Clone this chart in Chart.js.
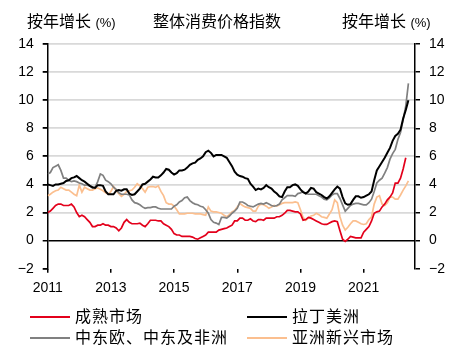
<!DOCTYPE html>
<html>
<head>
<meta charset="utf-8">
<script src="https://cdn.jsdelivr.net/npm/chart.js@4"></script>
<style>
  body { margin: 0; background: #fff; font-family: "Liberation Sans", "Noto Sans CJK SC", sans-serif; }
  #wrap { position: relative; width: 455px; height: 353px; }
  #chart { position: absolute; left: 0; top: 0; }
  .txt { position: absolute; font-size: 16px; line-height: 16px; color: #000; white-space: nowrap; }
  .pct { font-size: 13px; }
  .key { position: absolute; height: 2px; width: 40px; }
</style>
</head>
<body>
<div id="wrap">
  <canvas id="chart" width="455" height="353"></canvas>
  <div class="txt" style="left:27px; top:14px;">按年增长 <span class="pct">(%)</span></div>
  <div class="txt" style="left:153px; top:14px;">整体消费价格指数</div>
  <div class="txt" style="left:342px; top:14px;">按年增长 <span class="pct">(%)</span></div>
  <div id="legend"></div>
</div>
<script>
document.addEventListener("DOMContentLoaded", function() {
    // monthly data, first point = Jan 2011
    const startYear = 2011;
    const tickYears = [2011, 2013, 2015, 2017, 2019, 2021];
    const seriesNames = ['成熟市场', '拉丁美洲', '中东欧、中东及非洲', '亚洲新兴市场'];
    const seriesColors = ['#e3001b', '#000000', '#808080', '#fbbf8f'];

    const mature = [2.0,2.1,2.3,2.5,2.6,2.6,2.5,2.5,2.5,2.6,
        2.4,2.0,1.7,1.8,1.7,1.5,1.3,1.0,1.0,1.1,
        1.1,1.2,1.1,1.1,1.0,1.0,0.9,0.7,0.9,1.3,
        1.5,1.3,1.2,1.2,1.2,1.25,1.1,1.0,1.2,1.45,
        1.45,1.45,1.4,1.4,1.2,1.1,1.0,0.8,0.5,0.4,
        0.4,0.3,0.3,0.3,0.3,0.25,0.15,0.1,0.2,0.3,
        0.4,0.6,0.6,0.6,0.6,0.75,0.8,0.85,0.9,1.0,
        1.1,1.4,1.4,1.6,1.6,1.45,1.45,1.55,1.4,1.35,
        1.5,1.5,1.45,1.6,1.6,1.6,1.6,1.7,1.7,1.8,
        1.95,2.15,2.15,2.1,2.05,2.05,1.9,1.45,1.5,1.65,
        1.6,1.5,1.4,1.3,1.2,1.15,1.15,1.25,1.35,1.4,
        1.35,0.7,0.1,-0.05,0.1,0.3,0.25,0.2,0.2,0.2,
        0.6,0.8,1.0,1.4,1.95,2.05,2.1,2.4,2.6,2.9,
        3.1,3.4,4.1,4.1,4.45,5.1,5.9];

    const latam = [4.0,3.95,3.9,4.0,4.0,4.05,4.1,4.25,4.3,4.45,
        4.5,4.6,4.45,4.3,4.2,4.05,3.9,3.8,3.75,3.95,
        3.95,3.9,3.5,3.3,3.3,3.3,3.55,3.6,3.55,3.65,
        3.65,3.35,3.25,3.3,3.5,3.7,4.0,4.05,4.2,4.35,
        4.55,4.5,4.5,4.65,4.85,5.1,5.05,4.85,4.7,4.8,
        5.0,5.0,5.05,5.2,5.4,5.5,5.55,5.75,5.85,6.0,
        6.3,6.4,6.25,6.0,6.1,6.1,6.1,6.0,5.9,5.6,
        5.3,4.9,4.7,4.6,4.55,4.45,4.4,4.05,3.85,3.6,
        3.7,3.65,3.75,3.95,3.8,3.7,3.5,3.35,3.15,3.1,
        3.5,3.8,3.8,3.95,4.0,3.9,3.65,3.45,3.35,3.5,
        3.75,3.7,3.45,3.35,3.25,3.1,3.0,3.15,3.4,3.65,
        3.85,3.7,3.1,2.65,2.55,2.6,2.9,3.15,3.15,3.05,
        3.1,3.2,3.3,3.5,4.3,5.0,5.3,5.6,5.9,6.25,
        6.6,7.1,7.45,7.6,7.9,8.7,9.3,10.0];

    const cemea = [4.75,4.85,5.2,5.3,5.4,5.0,4.45,4.45,4.3,4.2,
        4.25,4.2,4.1,4.05,3.95,3.95,3.9,3.75,3.8,4.2,
        4.75,4.65,4.3,4.2,4.05,3.8,3.65,3.4,3.3,3.3,
        3.3,3.25,2.9,2.7,2.65,2.55,2.4,2.3,2.35,2.35,
        2.4,2.4,2.3,2.25,2.25,2.25,2.25,2.25,2.45,2.55,
        2.75,2.85,3.05,3.1,2.85,2.7,2.6,2.55,2.45,2.4,
        2.2,1.95,1.5,1.3,1.25,1.15,1.65,1.65,1.6,1.75,
        1.95,2.1,2.3,2.75,2.75,2.65,2.5,2.45,2.4,2.5,
        2.6,2.65,2.6,2.7,2.6,2.5,2.45,2.5,2.6,2.9,
        3.05,3.2,3.2,3.2,3.15,3.35,3.4,3.5,3.35,3.3,
        3.3,3.3,3.3,3.2,3.1,2.95,2.9,3.05,3.25,3.35,
        3.35,3.0,2.55,2.1,2.3,2.5,2.6,2.65,2.65,2.6,
        2.55,2.55,2.7,2.95,3.5,4.1,4.3,4.45,4.8,5.2,
        5.8,6.2,6.5,7.2,7.7,8.6,9.6,11.2];

    const asiaEm = [3.2,3.3,3.45,3.55,3.6,3.8,3.7,3.6,3.6,3.45,
        3.3,3.2,3.95,3.45,3.8,3.7,3.6,3.6,3.7,3.75,
        3.65,3.55,3.4,3.3,3.5,3.85,3.55,3.35,3.15,3.3,
        3.5,3.55,3.6,3.8,4.05,3.9,3.7,3.45,3.8,3.85,
        3.85,3.8,3.9,3.5,3.2,2.7,2.6,2.6,2.45,2.2,
        1.9,1.9,1.9,1.95,1.95,1.95,1.9,1.9,1.9,1.85,
        1.8,2.4,2.1,2.05,2.05,2.0,1.95,1.8,1.7,1.85,
        2.05,2.15,2.4,2.65,2.5,2.4,2.35,2.3,2.1,2.1,
        2.45,2.6,2.55,2.45,2.3,2.4,2.5,2.45,2.55,2.65,
        2.7,2.7,2.7,2.7,2.75,2.7,2.2,1.65,1.45,1.6,
        1.75,1.8,1.95,1.85,1.7,1.65,1.6,1.9,2.2,2.9,
        2.7,1.7,1.1,0.75,0.95,1.2,1.4,1.4,1.3,1.2,
        1.15,1.2,1.5,1.7,2.6,3.1,3.2,2.6,2.5,2.7,
        3.1,3.1,2.95,2.95,3.25,3.6,3.9,4.25];

    const allSeries = [mature, latam, cemea, asiaEm];

    const toPoints = arr => arr.map((v, i) => ({ x: startYear + i / 12, y: v }));

    const datasets = allSeries.map((arr, i) => ({
        label: seriesNames[i],
        data: toPoints(arr),
        borderColor: seriesColors[i],
        borderWidth: i === 1 ? 2 : 1.7,
        pointRadius: 0,
        fill: false,
        tension: 0
    }));

    const tickFont = { family: '"Liberation Sans", Arial, sans-serif', size: 14 };
    const fmt = v => String(v).replace('-', '\u2212');

    new Chart(document.getElementById('chart').getContext('2d'), {
        type: 'line',
        data: { datasets: datasets },
        options: {
            responsive: false,
            animation: false,
            layout: { padding: { top: 44, left: 0, right: 0, bottom: 0 } },
            plugins: { legend: { display: false }, tooltip: { enabled: false } },
            scales: {
                x: {
                    type: 'linear',
                    min: 2011,
                    max: 2022.625,
                    afterBuildTicks: s => { s.ticks = tickYears.map(v => ({ value: v })); },
                    afterFit: s => { s.height = 84.3; },
                    grid: { drawOnChartArea: false, tickColor: '#000', tickLength: 4, lineWidth: 1.5 },
                    border: { display: false },
                    ticks: { font: tickFont, color: '#000', padding: 7, maxRotation: 0, callback: v => String(v) }
                },
                y: {
                    position: 'left',
                    min: -2,
                    max: 14,
                    afterFit: s => { s.width = 47.7; },
                    ticks: { stepSize: 2, font: tickFont, color: '#000', padding: 9, callback: fmt },
                    grid: {
                        color: c => c.tick.value === 0 ? '#000' : (c.tick.value === -2 ? 'rgba(0,0,0,0)' : '#d9d9d9'),
                        lineWidth: c => c.tick.value === 0 ? 1.5 : 1.8,
                        tickColor: '#000',
                        tickLength: 5
                    },
                    border: { display: true, color: '#000', width: 1.5 }
                },
                y2: {
                    position: 'right',
                    min: -2,
                    max: 14,
                    afterFit: s => { s.width = 40; },
                    ticks: { stepSize: 2, font: tickFont, color: '#000', padding: 9, callback: fmt },
                    grid: { drawOnChartArea: false, tickColor: '#000', tickLength: 5, lineWidth: 1.5 },
                    border: { display: true, color: '#000', width: 1.5 }
                }
            }
        }
    });

    // legend, two columns
    const legend = document.getElementById('legend');
    const legendPos = [[30, 317], [247, 317], [30, 338], [247, 338]];
    seriesNames.forEach((name, i) => {
        const [lx, ly] = legendPos[i];
        const key = document.createElement('div');
        key.className = 'key';
        key.style.left = lx + 'px';
        key.style.top = (ly - 1) + 'px';
        key.style.background = seriesColors[i];
        legend.appendChild(key);
        const t = document.createElement('div');
        t.className = 'txt';
        t.style.left = (lx + 45) + 'px';
        t.style.top = (ly - 8) + 'px';
        t.style.letterSpacing = '1px';
        t.textContent = name;
        legend.appendChild(t);
    });
});
</script>
</body>
</html>
